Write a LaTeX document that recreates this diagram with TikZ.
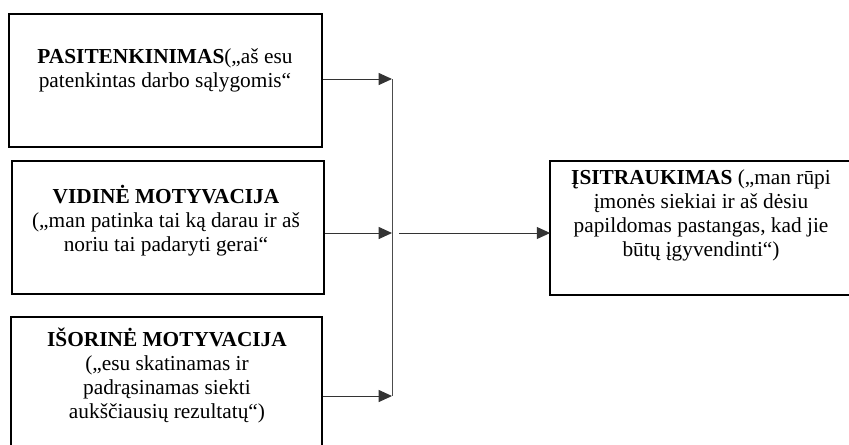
\documentclass[tikz,border=0pt]{standalone}
\usepackage{fontspec}
\setmainfont{Liberation Serif}
\usetikzlibrary{arrows.meta}

\begin{document}
\begin{tikzpicture}[x=0.75pt,y=-0.75pt]
  \tikzset{frame/.style={draw,rectangle,line width=1.3pt,inner sep=0pt},
    txt/.style={align=center,inner sep=0pt,font=\fontsize{16}{18}\selectfont},
    arr/.style={draw=black!80,line width=0.75pt,-{Triangle[length=10pt,width=9pt]}}}
  \useasboundingbox (0,0) rectangle (849,444);
  % boxes
  \node[frame,minimum width=234.75pt,minimum height=99.75pt] (box1) at (165.5,80.5) {};
  \node[frame,minimum width=234pt,minimum height=99.75pt] (box2) at (168,227.5) {};
  \node[frame,minimum width=233.25pt,minimum height=99.75pt] (box3) at (166.5,383.5) {};
  \node[frame,draw=none,minimum width=240pt,minimum height=99pt] (box4) at (711,228) {};
  \draw[line width=1.3pt] (box4.north east) -- (box4.north west)
    -- (box4.south west) -- (box4.south east);
  % texts
  \node[txt] (t1) at (165,70) {\textbf{PASITENKINIMAS}(„aš esu\\patenkintas darbo sąlygomis“};
  \node[txt] (t2) at (166,221) {\textbf{VIDINĖ MOTYVACIJA}\\(„man patinka tai ką darau ir aš\\noriu tai padaryti gerai“};
  \node[txt] (t3) at (167,375) {\textbf{IŠORINĖ MOTYVACIJA}\\(„esu skatinamas ir\\padrąsinamas siekti\\aukščiausių rezultatų“)};
  \node[txt] (t4) at (701,215) {\textbf{ĮSITRAUKIMAS} („man rūpi\\įmonės siekiai ir aš dėsiu\\papildomas pastangas, kad jie\\būtų įgyvendinti“)};
  % connectors
  \coordinate (m1) at (392,79);
  \coordinate (m2) at (392,233);
  \coordinate (m3) at (392,396);
  \coordinate (s4) at (399,233);
  \draw[draw=black!70,line width=0.75pt] (m1) -- (m3);
  \draw[arr] (box1.east |- m1) -- (m1);
  \draw[arr] (box2.east |- m2) -- (m2);
  \draw[arr] (box3.east |- m3) -- (m3);
  \draw[arr] (s4) -- (box4.west |- s4);
\end{tikzpicture}
\end{document}
